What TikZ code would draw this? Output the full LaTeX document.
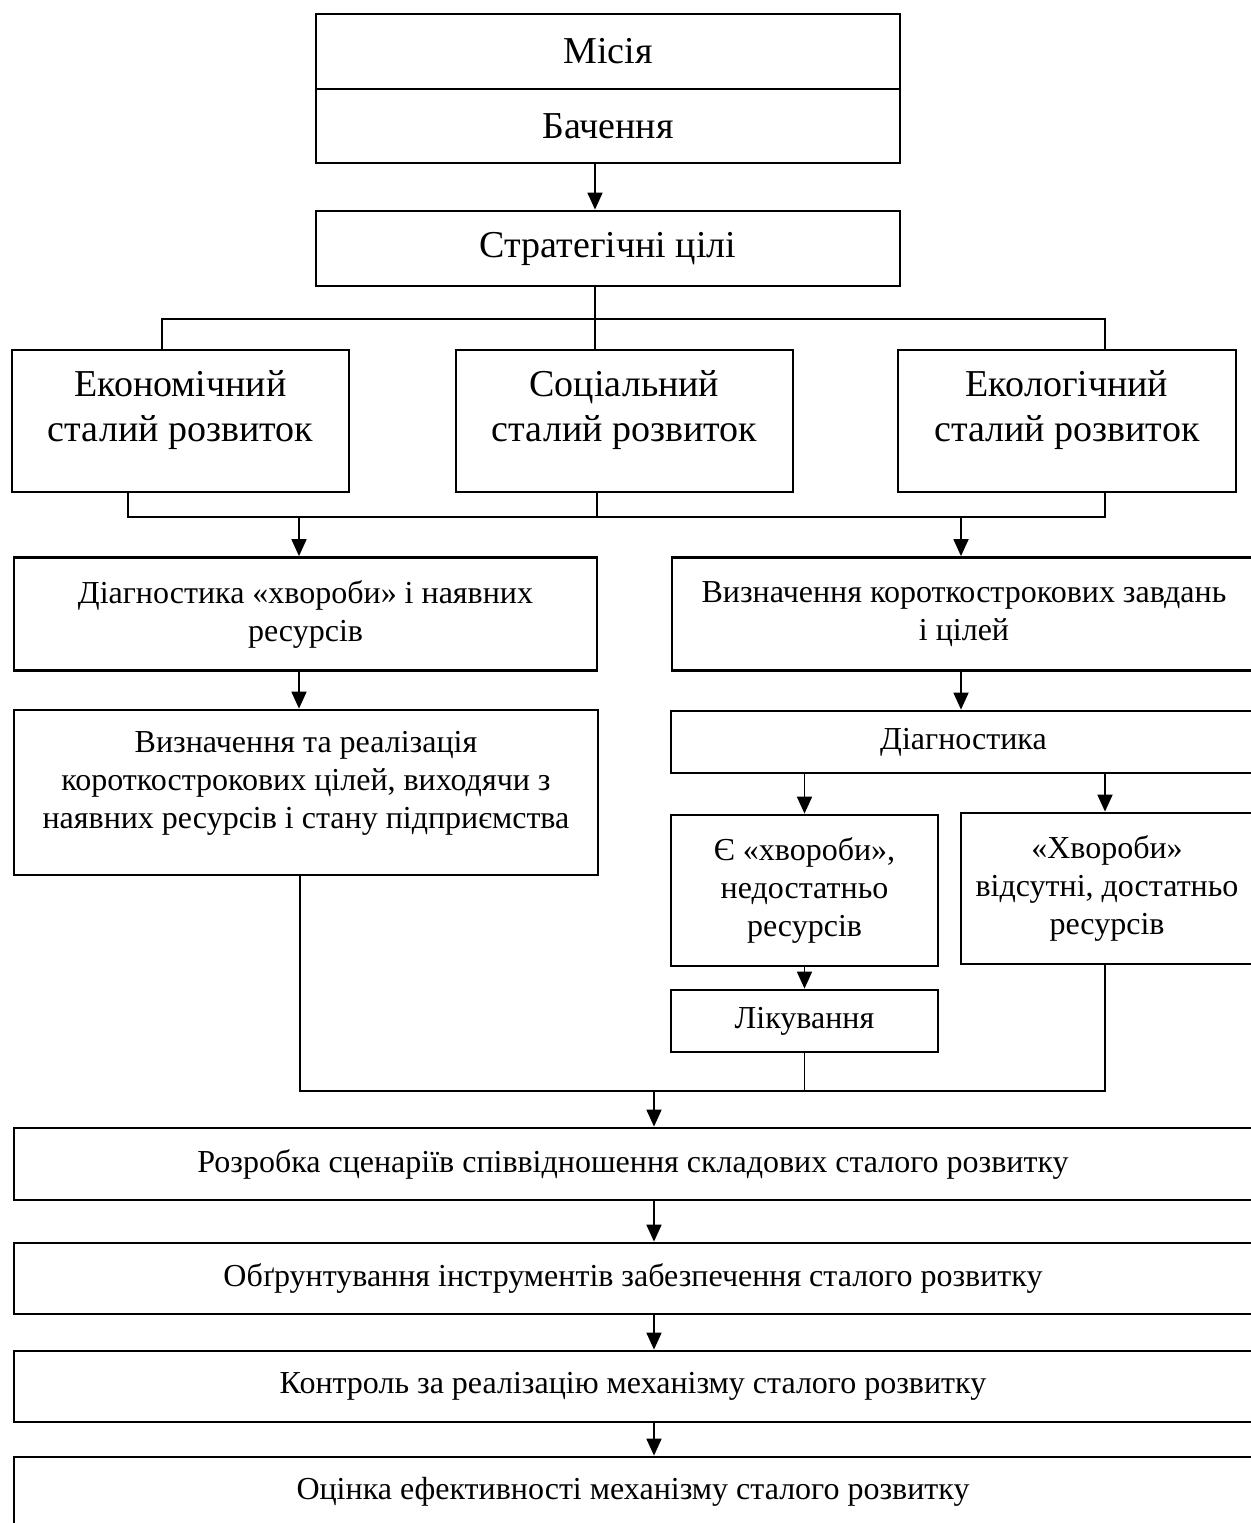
\documentclass[tikz,border=0pt]{standalone}
\usepackage{fontspec}
\setmainfont{Liberation Serif}
\usetikzlibrary{arrows.meta,positioning,calc}
\newcommand{\pxu}{0.5pt}
\newcommand{\bigtxt}{\fontsize{19}{22.5}\selectfont}
\newcommand{\smtxt}{\fontsize{16}{19}\selectfont}

\begin{document}
\begin{tikzpicture}[x = \pxu, y = -\pxu,
    box/.style 2 args = {draw, line width = 1.4pt, inner sep = 0pt, align = center,
        minimum width = #1*\pxu, minimum height = #2*\pxu, font = \smtxt},
    toptxt/.style = {font = \bigtxt, align = center, yshift = 5.5pt},
    uptxt/.style = {font = \smtxt, align = center, yshift = 4.5pt},
    arr/.style = {-{Triangle[length = 8.5pt, width = 7.5pt]}, line width = 0.9pt},
    ln/.style = {line width = 0.6pt}]
    \useasboundingbox (0,0) rectangle (1250,1523);
    % top block
    \node[box = {584}{75}, font = \bigtxt] (mis) at (608,51.5) {Місія};
    \node[box = {584}{74}, font = \bigtxt] (bach) at (608,126) {Бачення};
    \node[box = {584}{75}, font = \bigtxt] (strat) at (608,248.5) {Стратегічні цілі};
    % three kinds of development
    \node[box = {337}{142}, label = {[toptxt]center:Економічний\\сталий розвиток}] (econ) at (180.5,421) {};
    \node[box = {337}{142}, label = {[toptxt]center:Соціальний\\сталий розвиток}] (soc) at (624.5,421) {};
    \node[box = {338}{142}, label = {[toptxt]center:Екологічний\\сталий розвиток}] (ecol) at (1067,421) {};
    % left branch
    \node[box = {583}{113}] (diag1) at (305.5,614) {Діагностика «хвороби» і наявних\\ресурсів};
    \node[box = {584}{165}, label = {[uptxt]center:Визначення та реалізація\\короткострокових цілей, виходячи з\\наявних ресурсів і стану підприємства}] (vr) at (306,792.5) {};
    % right branch
    \node[box = {584}{113}] (vyzn1) at (964,614) {Визначення короткострокових завдань\\і цілей};
    \node[box = {585}{62}] (diagn) at (963.5,742) {Діагностика};
    \node[box = {267}{151}] (ye) at (804.5,890.5) {Є «хвороби»,\\недостатньо\\ресурсів};
    \node[box = {292}{151}] (vids) at (1107,888.5) {«Хвороби»\\відсутні, достатньо\\ресурсів};
    \node[box = {267}{62}] (lik) at (804.5,1021) {Лікування};
    % final steps
    \node[box = {1238}{72}] (rozr) at (633,1164) {Розробка сценаріїв співвідношення складових сталого розвитку};
    \node[box = {1238}{71}] (obgr) at (633,1278.5) {Обґрунтування інструментів забезпечення сталого розвитку};
    \node[box = {1238}{71}] (kontr) at (633,1386.5) {Контроль за реалізацію механізму сталого розвитку};
    \node[box = {1238}{70}] (otsin) at (633,1492) {Оцінка ефективності механізму сталого розвитку};

    % bus points
    \coordinate (b1l) at (162,319);
    \coordinate (b1m) at (595,319);
    \coordinate (b1r) at (1105,319);
    \coordinate (b2l) at (128,517);
    \coordinate (b2m) at (597,517);
    \coordinate (b2r) at (1105,517);
    \coordinate (c2l) at (299,517);
    \coordinate (c2r) at (961,517);
    \coordinate (b3l) at (300,1091);
    \coordinate (b3r) at (1105,1091);
    \coordinate (c3) at (654,1091);

    \draw[arr] (bach.south -| b1m) -- (strat.north -| b1m);
    \draw[ln] (strat.south -| b1m) -- (soc.north -| b1m);
    \draw[ln] (econ.north -| b1l) |- (b1r) -- (ecol.north -| b1r);
    \draw[ln] (econ.south -| b2l) |- (b2r) -- (ecol.south -| b2r);
    \draw[ln] (soc.south -| b2m) -- (b2m);
    \draw[arr] (c2l) -- (diag1.north -| c2l);
    \draw[arr] (c2r) -- (vyzn1.north -| c2r);
    \draw[arr] (diag1.south -| c2l) -- (vr.north -| c2l);
    \draw[arr] (vyzn1.south -| c2r) -- (diagn.north -| c2r);
    \draw[arr] (diagn.south -| ye.north) -- (ye.north);
    \draw[arr] (diagn.south -| b3r) -- (vids.north -| b3r);
    \draw[arr] (ye.south) -- (lik.north);
    \draw[ln] (vr.south -| b3l) |- (b3r) -- (vids.south -| b3r);
    \draw[ln] (lik.south) -- (lik.south |- b3l);
    \draw[arr] (c3) -- (rozr.north -| c3);
    \draw[arr] (rozr.south -| c3) -- (obgr.north -| c3);
    \draw[arr] (obgr.south -| c3) -- (kontr.north -| c3);
    \draw[arr] (kontr.south -| c3) -- (otsin.north -| c3);
\end{tikzpicture}
\end{document}
